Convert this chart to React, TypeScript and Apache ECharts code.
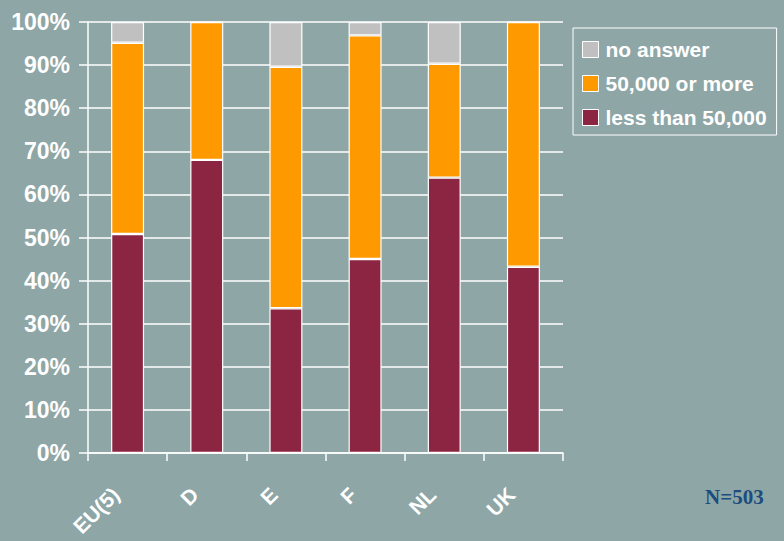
import React, { useEffect, useRef } from "react";
import * as echarts from "echarts";

const categories = ["EU(5)", "D", "E", "F", "NL", "UK"];
const lessThan50k = [50.8, 68.0, 33.6, 45.0, 63.9, 43.2];
const moreThan50k = [44.4, 32.0, 56.0, 51.9, 26.4, 56.8];
const noAnswer = [4.8, 0, 10.4, 3.1, 9.7, 0];
const yTicks = [0, 10, 20, 30, 40, 50, 60, 70, 80, 90, 100];

const BG = "#8ea6a6";
const FONT = "Liberation Sans, Arial, sans-serif";

export default function App() {
  const ref = useRef<HTMLDivElement>(null);
  useEffect(() => {
    document.body.style.margin = "0";
    const chart = echarts.init(ref.current!, undefined, { renderer: "svg" });
    const barStyle = (color: string) => ({
      color,
      borderColor: "#ffffff",
      borderWidth: 1.2,
    });
    chart.setOption({
      animation: false,
      backgroundColor: BG,
      grid: { left: 88, right: 221, top: 22, bottom: 88, containLabel: false },
      legend: {
        orient: "vertical",
        left: 573,
        top: 28,
        itemWidth: 16,
        itemHeight: 16,
        itemGap: 13,
        padding: [11, 10, 7, 9],
        borderColor: "#ffffff",
        borderWidth: 1,
        data: ["no answer", "50,000 or more", "less than 50,000"],
        textStyle: { color: "#ffffff", fontSize: 21, fontWeight: "bold", fontFamily: FONT, padding: [0, 0, 0, 2] },
        itemStyle: { borderColor: "#ffffff", borderWidth: 1 },
        icon: "rect",
      },
      xAxis: {
        type: "category",
        data: categories,
        boundaryGap: true,
        axisLine: { show: true, lineStyle: { color: "#ffffff", width: 1.5 } },
        axisTick: { show: true, alignWithLabel: false, length: 8, lineStyle: { color: "#ffffff", width: 1.5 } },
        axisLabel: {
          rotate: 45,
          margin: 26,
          color: "#ffffff",
          fontSize: 21,
          fontWeight: "bold",
          fontFamily: FONT,
          padding: [0, 17, 0, 0],
        },
      },
      yAxis: {
        type: "value",
        min: 0,
        max: 100,
        interval: 10,
        axisLine: { show: true, lineStyle: { color: "#ffffff", width: 1.5 } },
        axisTick: { show: true, length: 9, lineStyle: { color: "#ffffff", width: 1.5 } },
        splitLine: { show: true, lineStyle: { color: "#ffffff", width: 1.5 } },
        axisLabel: {
          margin: 18,
          color: "#ffffff",
          fontSize: 23,
          fontWeight: "bold",
          fontFamily: FONT,
          formatter: (v: number) => (yTicks.includes(v) ? v + "%" : ""),
        },
      },
      series: [
        {
          name: "less than 50,000",
          type: "bar",
          stack: "total",
          barWidth: 33,
          data: lessThan50k,
          itemStyle: barStyle("#8b2541"),
        },
        {
          name: "50,000 or more",
          type: "bar",
          stack: "total",
          barWidth: 33,
          data: moreThan50k,
          itemStyle: barStyle("#ff9900"),
        },
        {
          name: "no answer",
          type: "bar",
          stack: "total",
          barWidth: 33,
          data: noAnswer,
          itemStyle: barStyle("#c0c0c0"),
        },
      ],
      graphic: [
        {
          type: "text",
          left: 705,
          top: 486,
          style: {
            text: "N=503",
            fill: "#1b4d7e",
            font: "bold 21px 'Liberation Serif', 'Times New Roman', serif",
          },
        },
      ],
    });
    return () => chart.dispose();
  }, []);
  return <div ref={ref} style={{ width: 784, height: 541 }} />;
}
